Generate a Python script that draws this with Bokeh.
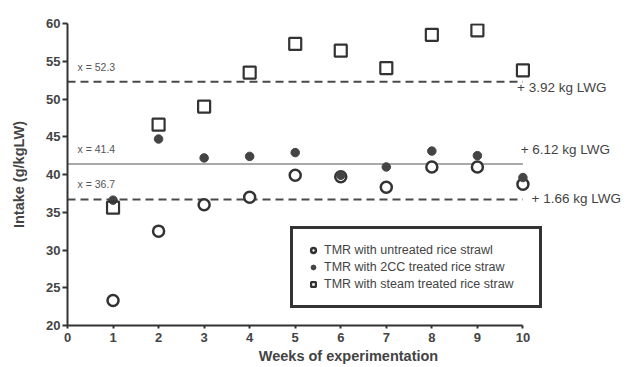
from bokeh.plotting import figure
from bokeh.models import ColumnDataSource, Legend, LegendItem, Range1d, FixedTicker
from bokeh.core.properties import value
from bokeh.embed import file_html
from bokeh.resources import INLINE

weeks = [1, 2, 3, 4, 5, 6, 7, 8, 9, 10]
untreated = [23.3, 32.5, 36.0, 37.0, 39.9, 39.7, 38.3, 41.0, 41.0, 38.7]
treated_2cc = [36.6, 44.7, 42.2, 42.4, 42.9, 39.9, 41.0, 43.1, 42.5, 39.6]
steam = [35.6, 46.6, 49.0, 53.5, 57.3, 56.4, 54.1, 58.5, 59.1, 53.8]

means = [52.3, 41.4, 36.7]
mean_labels = ["x = 52.3", "x = 41.4", "x = 36.7"]
gain_labels = ["+ 3.92 kg LWG", "+ 6.12 kg LWG", "+ 1.66 kg LWG"]
series_names = ["TMR with untreated rice strawl", "TMR with 2CC treated rice straw",
                "TMR with steam treated rice straw"]
x_ticks = list(range(0, 11))
y_ticks = [20, 25, 30, 35, 40, 45, 50, 55, 60]

FONT = "Liberation Sans"
DARK = "#333333"
GRAY = "#4a4a4a"

p = figure(width=629, height=367, output_backend="svg", toolbar_location=None,
           x_range=Range1d(0, 12.34), y_range=Range1d(20, 60),
           min_border_left=67, min_border_top=23, min_border_bottom=42, min_border_right=0)
p.outline_line_color = None
p.xgrid.visible = False
p.ygrid.visible = False
p.background_fill_color = "white"

# reference lines
line_start = 0
line_end = 10
p.segment(x0=[line_start], x1=[line_end], y0=[means[0]], y1=[means[0]],
          line_color=GRAY, line_width=2, line_dash="8 5")
p.segment(x0=[line_start], x1=[line_end], y0=[means[1]], y1=[means[1]],
          line_color="#555555", line_width=1.1)
p.segment(x0=[line_start], x1=[line_end], y0=[means[2]], y1=[means[2]],
          line_color=GRAY, line_width=2, line_dash="8 5")

# mean labels (left)
src_mean = ColumnDataSource(dict(x=[0.22, 0.22, 0.22],
                                 y=[m + 2.0 for m in means],
                                 t=mean_labels))
p.text(x="x", y="y", text="t", source=src_mean, text_font=value(FONT),
       text_font_size="10.5px", text_color="#555555", text_baseline="middle")

# gain labels (right)
src_gain = ColumnDataSource(dict(x=[9.87, 9.95, 10.19],
                                 y=[means[0] - 0.8, means[1] + 1.9, means[2] + 0.1],
                                 t=gain_labels))
p.text(x="x", y="y", text="t", source=src_gain, text_font=value(FONT),
       text_font_size="13.5px", text_color="#444444", text_baseline="middle")

r1 = p.scatter(weeks, untreated, marker="circle", size=11, fill_color="white",
               line_color=DARK, line_width=2.5)
r2 = p.scatter(weeks, treated_2cc, marker="circle", size=8.5, fill_color="#444444",
               line_color="#444444", line_width=1)
r3 = p.scatter(weeks, steam, marker="square", size=12, fill_color=None,
               line_color=DARK, line_width=2.2)

legend = Legend(items=[LegendItem(label=series_names[0], renderers=[r1]),
                       LegendItem(label=series_names[1], renderers=[r2]),
                       LegendItem(label=series_names[2], renderers=[r3])],
                location=(223, 17))
legend.border_line_color = DARK
legend.border_line_alpha = 1.0
legend.border_line_width = 3
legend.background_fill_alpha = 0
legend.padding = 14
legend.spacing = 3
legend.label_height = 14
legend.label_width = 201
legend.glyph_height = 14
legend.glyph_width = 12
legend.label_standoff = 5
legend.margin = 0
legend.label_text_font = FONT
legend.label_text_font_size = "12.5px"
legend.label_text_color = "#444444"
p.add_layout(legend, "center")

for ax in (p.xaxis[0], p.yaxis[0]):
    ax.axis_line_color = DARK
    ax.axis_line_width = 2
    ax.major_tick_line_color = DARK
    ax.major_tick_line_width = 2
    ax.minor_tick_line_color = None
    ax.major_tick_in = 0
    ax.major_label_text_font = FONT
    ax.major_label_text_font_style = "bold"
    ax.major_label_text_font_size = "13px"
    ax.major_label_text_color = "#444444"
    ax.axis_label_text_font = FONT
    ax.axis_label_text_font_style = "bold"
    ax.axis_label_text_font_size = "14.5px"
    ax.axis_label_text_color = "#444444"

p.xaxis[0].ticker = FixedTicker(ticks=x_ticks)
p.xaxis[0].bounds = (0, 10)
p.xaxis[0].axis_label = "Weeks of experimentation"
p.xaxis[0].major_tick_out = 3
p.xaxis[0].major_label_standoff = 4
p.xaxis[0].axis_label_standoff = 3

p.yaxis[0].ticker = FixedTicker(ticks=y_ticks)
p.yaxis[0].bounds = (20, 60)
p.yaxis[0].axis_label = "Intake (g/kgLW)"
p.yaxis[0].major_tick_out = 5
p.yaxis[0].major_label_standoff = 2
p.yaxis[0].axis_label_standoff = 16

open("out.html", "w").write(file_html(p, INLINE))
